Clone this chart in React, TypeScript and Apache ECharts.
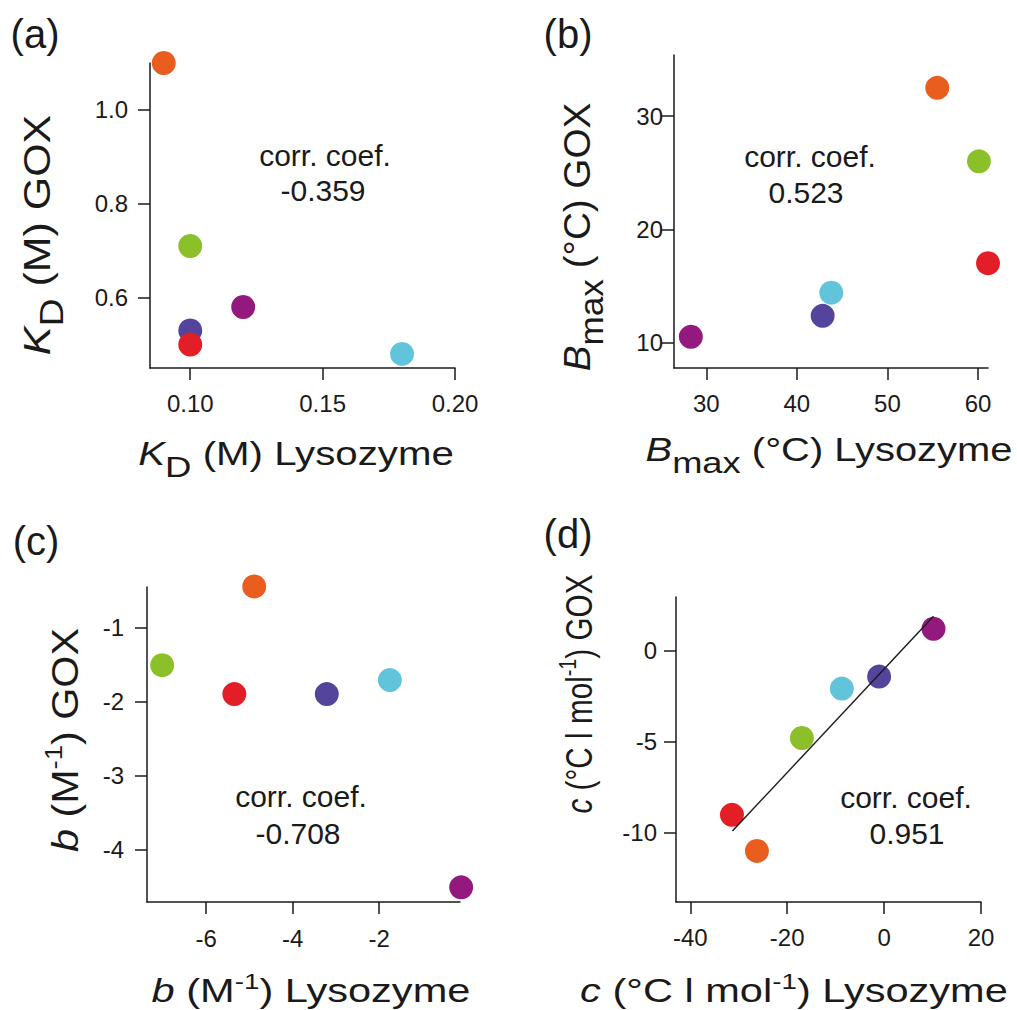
import React, { useEffect, useRef } from "react";
import * as echarts from "echarts";

const FONT = "'Liberation Sans', Arial, Helvetica, sans-serif";
const INK = "#1a1a1a";

// sample order: orange, green, indigo, red, magenta, cyan
const sampleColors = ["#E95D1E", "#8BC02A", "#55449B", "#E41E26", "#94197F", "#62C4DA"];

// (a) K_D (M)
const kdLysozyme = [0.09, 0.1, 0.1, 0.1, 0.12, 0.18];
const kdGox = [1.1, 0.71, 0.53, 0.5, 0.58, 0.48];
const kdXTicks = [0.1, 0.15, 0.2];
const kdYTicks = [0.6, 0.8, 1.0];

// (b) B_max (°C)
const bmaxLysozyme = [55.5, 60.1, 42.85, 61.1, 28.3, 43.8];
const bmaxGox = [32.5, 26.0, 12.35, 17.0, 10.5, 14.4];
const bmaxXTicks = [30, 40, 50, 60];
const bmaxYTicks = [10, 20, 30];

// (c) b (M^-1)
const bLysozyme = [-4.89, -7.02, -3.21, -5.35, -0.1, -1.75];
const bGox = [-0.445, -1.51, -1.9, -1.9, -4.51, -1.71];
const bXTicks = [-6, -4, -2];
const bYTicks = [-4, -3, -2, -1];

// (d) c (°C l mol^-1)
const cLysozyme = [-26.25, -16.97, -1.03, -31.4, 10.2, -8.72];
const cGox = [-10.99, -4.8, -1.43, -9.01, 1.19, -2.09];
const cXTicks = [-40, -20, 0, 20];
const cYTicks = [-10, -5, 0];
const cFitLine = [
  [-31.3, -9.9],
  [10.2, 1.87],
];

const corrCoefs = ["-0.359", "0.523", "-0.708", "0.951"];
const panelLetters = ["(a)", "(b)", "(c)", "(d)"];

const panels = [
  {
    grid: { left: 150, top: 63, width: 305, height: 305 },
    x: { min: 0.0848, max: 0.2, ticks: kdXTicks, digits: 2, margin: 23 },
    y: { min: 0.45, max: 1.1, ticks: kdYTicks, digits: 1, margin: 22 },
    xs: kdLysozyme,
    ys: kdGox,
  },
  {
    grid: { left: 674, top: 55, width: 314, height: 313 },
    x: { min: 26.44, max: 61.1, ticks: bmaxXTicks, digits: 0, margin: 23 },
    y: { min: 7.74, max: 35.4, ticks: bmaxYTicks, digits: 0, margin: 11 },
    xs: bmaxLysozyme,
    ys: bmaxGox,
  },
  {
    grid: { left: 147, top: 587, width: 313, height: 315 },
    x: { min: -7.371, max: -0.127, ticks: bXTicks, digits: 0, margin: 24 },
    y: { min: -4.709, max: -0.453, ticks: bYTicks, digits: 0, margin: 23 },
    xs: bLysozyme,
    ys: bGox,
  },
  {
    grid: { left: 676, top: 597, width: 305, height: 305 },
    x: { min: -42.95, max: 20, ticks: cXTicks, digits: 0, margin: 23 },
    y: { min: -13.79, max: 2.93, ticks: cYTicks, digits: 0, margin: 19 },
    xs: cLysozyme,
    ys: cGox,
  },
];

const TITLE_SIZE = 33;
const LINE_H = 40;
const rich = {
  n: { fontSize: TITLE_SIZE, fontFamily: FONT, fill: INK, lineHeight: LINE_H },
  i: { fontSize: TITLE_SIZE, fontFamily: FONT, fontStyle: "italic", fill: INK, lineHeight: LINE_H },
  sub: { fontSize: 30, fontFamily: FONT, fill: INK, lineHeight: LINE_H, padding: [26, 0, 0, 0] },
  sup: { fontSize: 22, fontFamily: FONT, fill: INK, lineHeight: LINE_H, padding: [0, 0, 20, 0] },
};

const xTitles = [
  { text: "{i|K}{sub|D}{n| (M) Lysozyme}", x: 296, y: 454, s: 1.22 },
  { text: "{i|B}{sub|max}{n| (°C) Lysozyme}", x: 829, y: 450, s: 1.21 },
  { text: "{i|b}{n| (M}{sup|-1}{n|) Lysozyme}", x: 311, y: 991, s: 1.26 },
  { text: "{i|c}{n| (°C l mol}{sup|-1}{n|) Lysozyme}", x: 794, y: 991, s: 1.26 },
];
const yTitles = [
  { text: "{i|K}{sub|D}{n| (M) GOX}", x: 37, y: 235, s: 1.3 },
  { text: "{i|B}{sub|max}{n| (°C) GOX}", x: 577, y: 237, s: 1.17 },
  { text: "{i|b}{n| (M}{sup|-1}{n|) GOX}", x: 65, y: 740, s: 1.25 },
  { text: "{i|c}{n| (°C l mol}{sup|-1}{n|) GOX}", x: 579, y: 694, s: 0.9 },
];
const letterPos = [
  [35, 34],
  [568, 34],
  [36, 541],
  [568, 534],
];
const corrPos = [
  [325, 155, 323, 190],
  [810, 156, 806, 192],
  [301, 796, 298, 833],
  [906, 797, 907, 833],
];

function textEl(text: string, x: number, y: number, size: number, extra: any = {}) {
  return {
    type: "text",
    x,
    y,
    ...extra,
    style: {
      text,
      fontSize: size,
      fontFamily: FONT,
      fill: INK,
      align: "center",
      verticalAlign: "middle",
      textAlign: "center",
      textVerticalAlign: "middle",
      ...(extra.style || {}),
    },
  };
}

function buildOption() {
  const grid: any[] = [];
  const xAxis: any[] = [];
  const yAxis: any[] = [];
  const series: any[] = [];
  const axisCommon = {
    type: "value",
    splitLine: { show: false },
    axisLine: { show: true, onZero: false, lineStyle: { color: INK, width: 1.5 } },
  };
  panels.forEach((p, k) => {
    grid.push({ ...p.grid, containLabel: false });
    xAxis.push({
      ...axisCommon,
      gridIndex: k,
      min: p.x.min,
      max: p.x.max,
      axisTick: { show: true, inside: false, length: 12, customValues: p.x.ticks, lineStyle: { color: INK, width: 1.5 } },
      axisLabel: {
        customValues: p.x.ticks,
        margin: p.x.margin,
        fontSize: 24,
        fontFamily: FONT,
        color: INK,
        formatter: (v: number) => v.toFixed(p.x.digits),
      },
    });
    yAxis.push({
      ...axisCommon,
      gridIndex: k,
      min: p.y.min,
      max: p.y.max,
      axisTick: { show: true, inside: false, length: 12, customValues: p.y.ticks, lineStyle: { color: INK, width: 1.5 } },
      axisLabel: {
        customValues: p.y.ticks,
        margin: p.y.margin,
        fontSize: 24,
        fontFamily: FONT,
        color: INK,
        formatter: (v: number) => v.toFixed(p.y.digits),
      },
    });
    series.push({
      type: "scatter",
      xAxisIndex: k,
      yAxisIndex: k,
      symbol: "circle",
      symbolSize: 24,
      clip: false,
      z: 3,
      data: p.xs.map((xv, j) => ({
        value: [xv, p.ys[j]],
        itemStyle: { color: sampleColors[j], opacity: 1 },
      })),
    });
  });
  series.push({
    type: "line",
    xAxisIndex: 3,
    yAxisIndex: 3,
    data: cFitLine,
    symbol: "none",
    z: 4,
    lineStyle: { color: INK, width: 1.4 },
  });

  const graphic: any[] = [];
  xTitles.forEach((t) => {
    graphic.push(textEl(t.text, t.x, t.y, TITLE_SIZE, { scaleX: t.s, style: { rich, lineHeight: LINE_H } }));
  });
  yTitles.forEach((t) => {
    graphic.push(
      textEl(t.text, t.x, t.y, TITLE_SIZE, {
        rotation: Math.PI / 2,
        scaleX: t.s,
        scaleY: 1.12,
        style: { rich, lineHeight: LINE_H },
      })
    );
  });
  panelLetters.forEach((l, k) => {
    graphic.push(textEl(l, letterPos[k][0], letterPos[k][1], 40));
  });
  corrCoefs.forEach((c, k) => {
    const p = corrPos[k];
    graphic.push(textEl("corr. coef.", p[0], p[1], 30));
    graphic.push(textEl(c, p[2], p[3], 30));
  });

  return {
    animation: false,
    backgroundColor: "#ffffff",
    textStyle: { fontFamily: FONT },
    grid,
    xAxis,
    yAxis,
    series,
    graphic,
  };
}

export default function App() {
  const ref = useRef<HTMLDivElement>(null);
  useEffect(() => {
    document.body.style.margin = "0";
    if (!ref.current) return;
    const chart = echarts.init(ref.current, undefined, { renderer: "svg" });
    chart.setOption(buildOption() as any);
    return () => chart.dispose();
  }, []);
  return <div ref={ref} style={{ width: 1017, height: 1010 }} />;
}
